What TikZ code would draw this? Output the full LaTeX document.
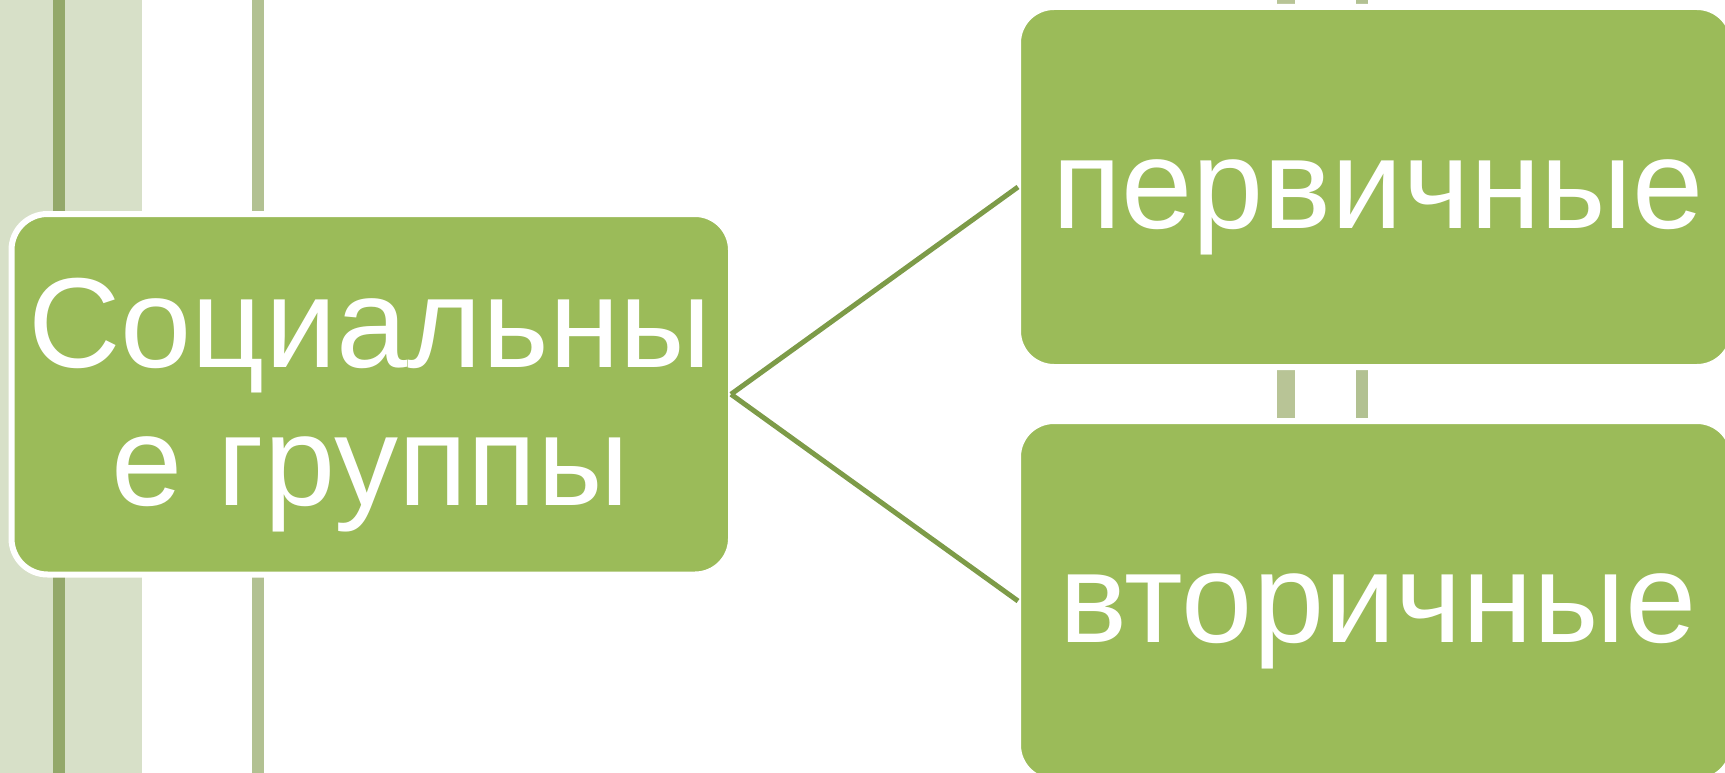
\documentclass[tikz,border=0pt]{standalone}
\usepackage{fontspec}
\setmainfont{Liberation Sans}
\definecolor{boxgreen}{HTML}{9BBB59}
\definecolor{lineolive}{HTML}{7D9B48}
\definecolor{bandlight}{HTML}{D7E0C8}
\definecolor{stripedark}{HTML}{93A86A}
\definecolor{stripemid}{HTML}{B2C192}
\definecolor{stripegap}{HTML}{B8C496}
\tikzset{
  greenbox/.style={rectangle, rounded corners=36pt, fill=boxgreen, draw=white,
    line width=6pt, inner sep=0pt, outer sep=0pt},
  boxtext/.style={text=white, inner sep=0pt, anchor=base,
    font=\fontsize{128}{138}\selectfont},
  link/.style={draw=lineolive, line width=5pt}
}
\begin{document}
\begin{tikzpicture}[x=1pt,y=-1pt]
\useasboundingbox (0,0) rectangle (1725,773);
% background stripes
\fill[bandlight] (0,0) rectangle (142,773);
\fill[stripedark] (53,0) rectangle (65,773);
\fill[stripemid] (252,0) rectangle (264,773);
\fill[stripegap] (1277,0) rectangle (1295,773);
\fill[stripemid] (1356,0) rectangle (1368,773);
% boxes
\node[greenbox, minimum width=719.5pt, minimum height=360.5pt] (soc) at (371.25,394.25) {};
\node[greenbox, minimum width=715pt, minimum height=360pt] (perv) at (1375.5,187) {};
\node[greenbox, minimum width=715pt, minimum height=360pt] (vtor) at (1375.5,601) {};
% connectors
\draw[link] (soc.east) -- (perv.west);
\draw[link] (soc.east) -- (vtor.west);
% texts
\node[boxtext] (t1) at (370,367) {Социальны};
\node[boxtext] (t2) at (370,505) {е группы};
\node[boxtext] (t3) at (1378,229) {первичные};
\node[boxtext] (t4) at (1378,642) {вторичные};
\end{tikzpicture}
\end{document}
